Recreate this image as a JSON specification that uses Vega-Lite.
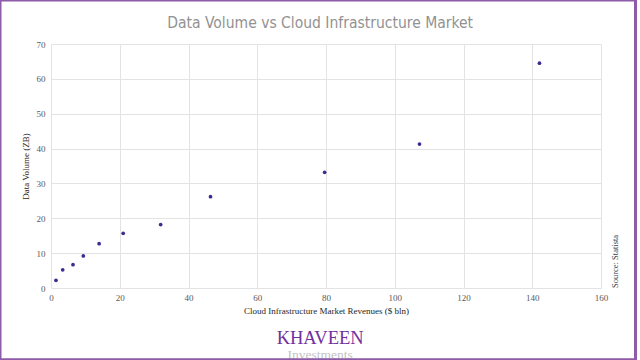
{
  "$schema": "https://vega.github.io/schema/vega-lite/v6.json",
  "width": 550,
  "height": 244,
  "autosize": {"type": "none"},
  "padding": {"left": 51, "top": 44, "right": 39, "bottom": 72},
  "background": "white",
  "config": {
    "view": {"stroke": null},
    "axis": {
      "labelFont": "Liberation Serif",
      "titleFont": "Liberation Serif",
      "labelColor": "#595959",
      "titleColor": "#262626",
      "labelFontSize": 9,
      "titleFontSize": 9,
      "titleFontWeight": "normal",
      "gridColor": "#e3e3e3",
      "domain": false,
      "ticks": false,
      "labelFlush": false,
      "labelOverlap": false
    },
    "axisX": {"tickCount": 8, "labelPadding": 5, "titlePadding": 4},
    "axisY": {"tickCount": 7, "labelPadding": 6, "titlePadding": 6}
  },
  "datasets": {
    "points": [
      {"revenue": 1.45, "volume": 2.2},
      {"revenue": 3.4, "volume": 5.2},
      {"revenue": 6.4, "volume": 6.7},
      {"revenue": 9.4, "volume": 9.2},
      {"revenue": 14.0, "volume": 12.7},
      {"revenue": 21.0, "volume": 15.7},
      {"revenue": 31.9, "volume": 18.2},
      {"revenue": 46.4, "volume": 26.2},
      {"revenue": 79.6, "volume": 33.2},
      {"revenue": 107.2, "volume": 41.3},
      {"revenue": 142.1, "volume": 64.5}
    ],
    "notes": [
      {"label": "Data Volume vs Cloud Infrastructure Market", "role": "title"},
      {"label": "KHAVEEN", "role": "brand"},
      {"label": "Investments", "role": "brandsub"},
      {"label": "Source: Statista", "role": "source"}
    ]
  },
  "layer": [
    {
      "data": {"name": "points"},
      "mark": {"type": "circle", "color": "#3f2b8f", "opacity": 1, "size": 14},
      "encoding": {
        "x": {
          "field": "revenue",
          "type": "quantitative",
          "scale": {"domain": [0, 160], "nice": false},
          "axis": {"title": "Cloud Infrastructure Market Revenues ($ bln)"}
        },
        "y": {
          "field": "volume",
          "type": "quantitative",
          "scale": {"domain": [0, 70], "nice": false},
          "axis": {"title": "Data Volume (ZB)"}
        }
      }
    },
    {
      "data": {"name": "notes"},
      "transform": [{"filter": "datum.role === 'title'"}],
      "mark": {"type": "text", "font": "DejaVu Sans Condensed, Liberation Sans Narrow, Roboto Condensed, Liberation Sans, sans-serif", "fontSize": 15.5, "color": "#929292", "align": "center", "baseline": "middle"},
      "encoding": {
        "text": {"field": "label"},
        "x": {"datum": 78.3},
        "y": {"datum": 76.1}
      }
    },
    {
      "data": {"name": "notes"},
      "transform": [{"filter": "datum.role === 'brand'"}],
      "mark": {"type": "text", "font": "Liberation Serif", "fontSize": 18.5, "color": "#7030a0", "align": "center", "baseline": "alphabetic"},
      "encoding": {
        "text": {"field": "label"},
        "x": {"datum": 78.3},
        "y": {"datum": -16.0}
      }
    },
    {
      "data": {"name": "notes"},
      "transform": [{"filter": "datum.role === 'brandsub'"}],
      "mark": {"type": "text", "font": "Liberation Serif", "fontSize": 13.5, "color": "#c4c4c4", "align": "center", "baseline": "middle"},
      "encoding": {
        "text": {"field": "label"},
        "x": {"datum": 78.3},
        "y": {"datum": -19.3}
      }
    },
    {
      "data": {"name": "notes"},
      "transform": [{"filter": "datum.role === 'source'"}],
      "mark": {"type": "text", "font": "Liberation Serif", "fontSize": 8.5, "color": "#404040", "angle": 270, "align": "left", "baseline": "middle"},
      "encoding": {
        "text": {"field": "label"},
        "x": {"datum": 164.1},
        "y": {"datum": 0}
      }
    },
    {
      "data": {"values": [{}]},
      "mark": {"type": "rect", "fill": null, "stroke": "#8e5ba8", "strokeWidth": 3},
      "encoding": {
        "x": {"datum": -14.84},
        "x2": {"datum": 170.04},
        "y": {"datum": 82.6},
        "y2": {"datum": -20.55}
      }
    }
  ]
}
